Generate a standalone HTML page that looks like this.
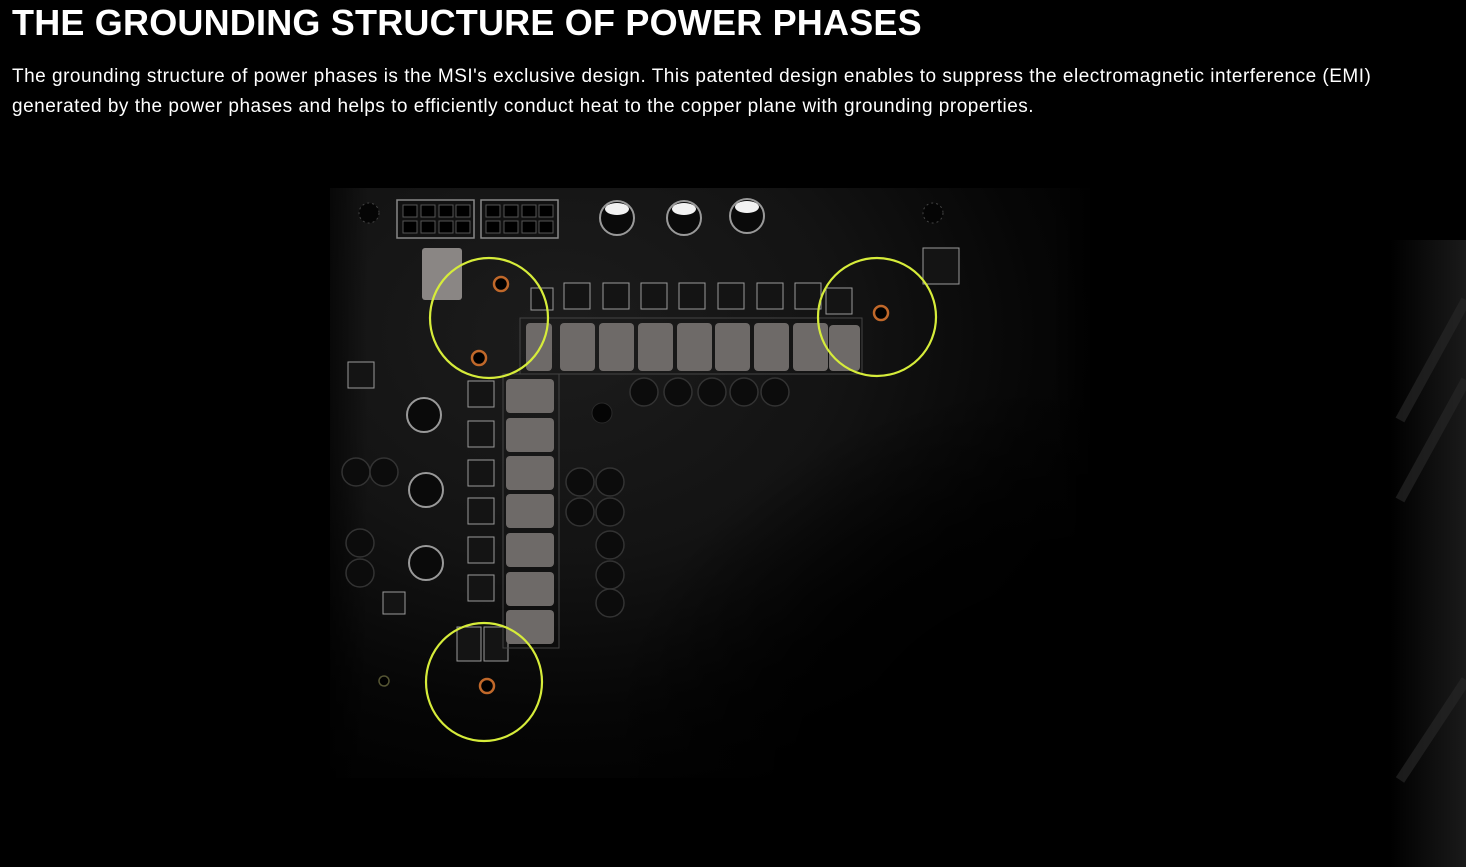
<!DOCTYPE html>
<html><head><meta charset="utf-8"><style>
html,body{margin:0;padding:0;background:#000;width:1466px;height:867px;overflow:hidden}
h1{position:absolute;left:12px;top:0;margin:0;font:bold 36px/46px "Liberation Sans",sans-serif;color:#fff;letter-spacing:0.2px}
p{position:absolute;left:12px;top:62px;margin:0;width:1400px;font:19px/30px "Liberation Sans",sans-serif;color:#fff;letter-spacing:0.5px}
svg{position:absolute;left:0;top:0}
</style></head><body>
<svg width="1466" height="867">
<defs>
<radialGradient id="bg" cx="0.3" cy="0.25" r="0.85">
<stop offset="0" stop-color="#1c1c1c"/><stop offset="0.45" stop-color="#131313"/><stop offset="0.75" stop-color="#060606"/><stop offset="1" stop-color="#000"/></radialGradient>
<linearGradient id="rt" x1="0" x2="1"><stop offset="0" stop-color="#000"/><stop offset="1" stop-color="#1a1a1a"/></linearGradient>
<radialGradient id="dk" cx="1" cy="1" r="1">
<stop offset="0" stop-color="#000" stop-opacity="1"/><stop offset="0.6" stop-color="#000" stop-opacity="0.85"/><stop offset="1" stop-color="#000" stop-opacity="0"/></radialGradient>
<linearGradient id="fl" x1="0" x2="1"><stop offset="0" stop-color="#000" stop-opacity="0.6"/><stop offset="0.05" stop-color="#000" stop-opacity="0"/><stop offset="0.95" stop-color="#000" stop-opacity="0"/><stop offset="1" stop-color="#000" stop-opacity="0.8"/></linearGradient>
</defs>
<rect x="330" y="188" width="760" height="590" fill="url(#bg)"/>
<rect x="600" y="380" width="490" height="400" fill="url(#dk)"/>
<rect x="330" y="188" width="760" height="590" fill="url(#fl)"/>
<rect x="1390" y="240" width="76" height="627" fill="url(#rt)"/>
<g stroke="#262626" stroke-width="10" opacity="0.7">
<line x1="1466" y1="300" x2="1400" y2="420"/><line x1="1466" y1="380" x2="1400" y2="500"/><line x1="1466" y1="680" x2="1400" y2="780"/>
</g>
<g fill="#111" stroke="#888" stroke-width="1.5">
<rect x="397" y="200" width="77" height="38"/><rect x="481" y="200" width="77" height="38"/>
</g>
<g fill="#000" stroke="#555">
<rect x="403" y="205" width="14" height="12"/><rect x="421" y="205" width="14" height="12"/><rect x="439" y="205" width="14" height="12"/><rect x="456" y="205" width="14" height="12"/>
<rect x="403" y="221" width="14" height="12"/><rect x="421" y="221" width="14" height="12"/><rect x="439" y="221" width="14" height="12"/><rect x="456" y="221" width="14" height="12"/>
<rect x="486" y="205" width="14" height="12"/><rect x="504" y="205" width="14" height="12"/><rect x="522" y="205" width="14" height="12"/><rect x="539" y="205" width="14" height="12"/>
<rect x="486" y="221" width="14" height="12"/><rect x="504" y="221" width="14" height="12"/><rect x="522" y="221" width="14" height="12"/><rect x="539" y="221" width="14" height="12"/>
</g>
<g fill="#0a0a0a" stroke="#999" stroke-width="2">
<circle cx="617" cy="218" r="17"/><circle cx="684" cy="218" r="17"/><circle cx="747" cy="216" r="17"/>
<circle cx="424" cy="415" r="17"/><circle cx="426" cy="490" r="17"/><circle cx="426" cy="563" r="17"/>
</g>
<g fill="#f2f2f2"><ellipse cx="617" cy="209" rx="12" ry="6"/><ellipse cx="684" cy="209" rx="12" ry="6"/><ellipse cx="747" cy="207" rx="12" ry="6"/></g>
<g fill="#0c0c0c" stroke="#333" stroke-width="1.5">
<circle cx="644" cy="392" r="14"/><circle cx="678" cy="392" r="14"/><circle cx="712" cy="392" r="14"/><circle cx="744" cy="392" r="14"/><circle cx="775" cy="392" r="14"/>
<circle cx="580" cy="482" r="14"/><circle cx="610" cy="482" r="14"/><circle cx="580" cy="512" r="14"/><circle cx="610" cy="512" r="14"/>
<circle cx="610" cy="545" r="14"/><circle cx="610" cy="575" r="14"/><circle cx="610" cy="603" r="14"/>
<circle cx="356" cy="472" r="14"/><circle cx="384" cy="472" r="14"/><circle cx="360" cy="543" r="14"/><circle cx="360" cy="573" r="14"/>
</g>
<rect x="422" y="248" width="40" height="52" rx="3" fill="#8a8684"/>
<g fill="#141414" stroke="#9a9a9a" stroke-width="1">
<rect x="531" y="288" width="22" height="22"/><rect x="564" y="283" width="26" height="26"/><rect x="603" y="283" width="26" height="26"/><rect x="641" y="283" width="26" height="26"/><rect x="679" y="283" width="26" height="26"/><rect x="718" y="283" width="26" height="26"/><rect x="757" y="283" width="26" height="26"/><rect x="795" y="283" width="26" height="26"/><rect x="826" y="288" width="26" height="26"/>
<rect x="468" y="381" width="26" height="26"/><rect x="468" y="421" width="26" height="26"/><rect x="468" y="460" width="26" height="26"/><rect x="468" y="498" width="26" height="26"/><rect x="468" y="537" width="26" height="26"/><rect x="468" y="575" width="26" height="26"/>
<rect x="457" y="627" width="24" height="34"/><rect x="484" y="627" width="24" height="34"/>
<rect x="923" y="248" width="36" height="36"/><rect x="348" y="362" width="26" height="26"/><rect x="383" y="592" width="22" height="22"/>
</g>
<g fill="none" stroke="#444" stroke-width="1"><rect x="520" y="318" width="342" height="56"/><rect x="503" y="374" width="56" height="274"/></g>
<g fill="#6e6a68">
<rect x="526" y="323" width="26" height="48" rx="4"/><rect x="560" y="323" width="35" height="48" rx="4"/><rect x="599" y="323" width="35" height="48" rx="4"/><rect x="638" y="323" width="35" height="48" rx="4"/><rect x="677" y="323" width="35" height="48" rx="4"/><rect x="715" y="323" width="35" height="48" rx="4"/><rect x="754" y="323" width="35" height="48" rx="4"/><rect x="793" y="323" width="35" height="48" rx="4"/><rect x="829" y="325" width="31" height="46" rx="4"/>
<rect x="506" y="379" width="48" height="34" rx="4"/><rect x="506" y="418" width="48" height="34" rx="4"/><rect x="506" y="456" width="48" height="34" rx="4"/><rect x="506" y="494" width="48" height="34" rx="4"/><rect x="506" y="533" width="48" height="34" rx="4"/><rect x="506" y="572" width="48" height="34" rx="4"/><rect x="506" y="610" width="48" height="34" rx="4"/>
</g>
<circle cx="602" cy="413" r="10" fill="#050505" stroke="#2a2a2a"/>
<circle cx="369" cy="213" r="10" fill="#050505" stroke="#444" stroke-dasharray="2 3"/>
<circle cx="933" cy="213" r="10" fill="#050505" stroke="#444" stroke-dasharray="2 3"/>
<g fill="#000" stroke="#c0682a" stroke-width="2.5">
<circle cx="501" cy="284" r="7"/><circle cx="479" cy="358" r="7"/><circle cx="881" cy="313" r="7"/><circle cx="487" cy="686" r="7"/><circle cx="384" cy="681" r="5" stroke-width="1.5" stroke="#553"/>
</g>
<g fill="none" stroke="#d6ec3a" stroke-width="2.2">
<ellipse cx="489" cy="318" rx="59" ry="60"/><ellipse cx="877" cy="317" rx="59" ry="59"/><ellipse cx="484" cy="682" rx="58" ry="59"/>
</g>
</svg>
<h1>THE GROUNDING STRUCTURE OF POWER PHASES</h1>
<p>The grounding structure of power phases is the MSI's exclusive design. This patented design enables to suppress the electromagnetic interference (EMI)<br>generated by the power phases and helps to efficiently conduct heat to the copper plane with grounding properties.</p>
</body></html>
